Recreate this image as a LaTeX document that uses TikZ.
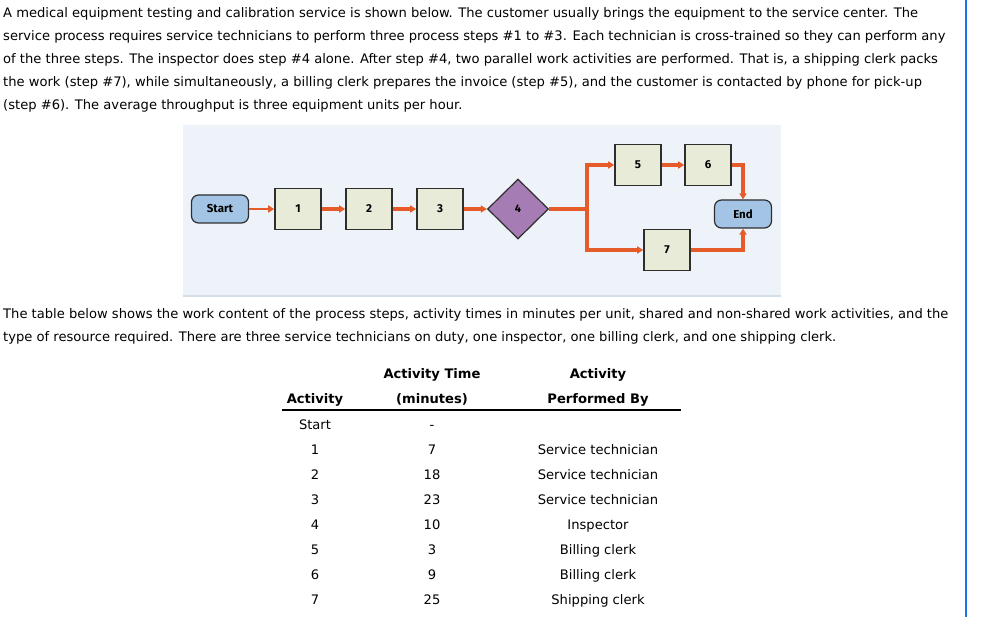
\documentclass[tikz,border=0pt]{standalone}
\usepackage{fontspec}
\usepackage{xcolor}
\usetikzlibrary{arrows.meta, positioning, shapes.geometric}
\setmainfont{DejaVu Sans}
\newfontfamily\diagfont{Fira Sans}

\definecolor{panelbg}{HTML}{EEF3F9}
\definecolor{panelrule}{HTML}{D3DEE6}
\definecolor{flow}{HTML}{E55B2A}
\definecolor{stepfill}{HTML}{E9EBD9}
\definecolor{edgegray}{HTML}{2E2E2E}
\definecolor{inspfill}{HTML}{A57CB3}
\definecolor{termfill}{HTML}{A3C4E4}
\definecolor{pagebar}{HTML}{1A73E8}

\tikzset{
  para/.style={anchor=base west, inner sep=0pt, font=\fontsize{13.1}{15}\selectfont},
  cell/.style={anchor=base, inner sep=0pt, font=\fontsize{13.1}{15}\selectfont},
  headcell/.style={cell, font=\fontsize{13.1}{15}\selectfont\bfseries},
  stepbox/.style={draw=edgegray, line width=1.6pt, fill=stepfill, minimum width=46pt, minimum height=41pt, inner sep=0pt, font=\diagfont\bfseries\fontsize{11.5}{13}\selectfont},
  termbox/.style={draw=edgegray, line width=1.2pt, fill=termfill, rounded corners=7pt, minimum width=57pt, minimum height=28pt, inner sep=0pt, font=\diagfont\bfseries\fontsize{11.5}{13}\selectfont},
  inspbox/.style={diamond, draw=edgegray, line width=1.2pt, fill=inspfill, minimum width=61pt, minimum height=60pt, inner sep=0pt, font=\diagfont\bfseries\fontsize{11}{12}\selectfont},
  flowline/.style={draw=flow, line width=3.4pt},
  flowarrow/.style={flowline, -{Triangle[length=6pt, width=7pt]}}
}

\begin{document}
\begin{tikzpicture}[x=1pt, y=-1pt]
    \useasboundingbox (0,0) rectangle (981,617);

    % Problem statement
    \foreach \txt [count=\i] in {%
      {A medical equipment testing and calibration service is shown below. The customer usually brings the equipment to the service center. The},
      {service process requires service technicians to perform three process steps \#1 to \#3. Each technician is cross-trained so they can perform any},
      {of the three steps. The inspector does step \#4 alone. After step \#4, two parallel work activities are performed. That is, a shipping clerk packs},
      {the work (step \#7), while simultaneously, a billing clerk prepares the invoice (step \#5), and the customer is contacted by phone for pick-up},
      {(step \#6). The average throughput is three equipment units per hour.}}
      \node[para] (intro\i) at (3,{18+23*(\i-1)}) {\txt};

    % Flow diagram panel
    \fill[panelbg] (183,125) rectangle (781,296);
    \draw[panelrule, line width=1.2pt] (183,296) -- (781,296);

    \node[termbox] (start) at (220,209) {Start};
    \node[stepbox] (s1) at (298,209) {1};
    \node[stepbox] (s2) at (369,209) {2};
    \node[stepbox] (s3) at (440,209) {3};
    \node[inspbox] (s4) at (518,209) {4};
    \node[stepbox] (s5) at (638,165) {5};
    \node[stepbox] (s6) at (708,165) {6};
    \node[stepbox] (s7) at (667,250) {7};
    \node[termbox] (end) at (743,214) {End};
    \coordinate (split) at (587,209);

    \draw[flowarrow, line width=2.6pt] (start) -- (s1);
    \draw[flowarrow] (s1) -- (s2);
    \draw[flowarrow] (s2) -- (s3);
    \draw[flowarrow] (s3) -- (s4);
    \draw[flowline] (s4) -- (split);
    \draw[flowarrow] (split) |- (s5);
    \draw[flowarrow] (split) |- (s7);
    \draw[flowarrow] (s5) -- (s6);
    \draw[flowarrow] (s6) -| (end);
    \draw[flowarrow] (s7) -| (end);

    % Second paragraph
    \node[para] (note1) at (3,318) {The table below shows the work content of the process steps, activity times in minutes per unit, shared and non-shared work activities, and the};
    \node[para] (note2) at (3,341) {type of resource required. There are three service technicians on duty, one inspector, one billing clerk, and one shipping clerk.};

    % Table
    \node[headcell] (hTimeA) at (432,378) {Activity Time};
    \node[headcell] (hByA) at (598,378) {Activity};
    \node[headcell] (hAct) at (315,403) {Activity};
    \node[headcell] (hTimeB) at (432,403) {(minutes)};
    \node[headcell] (hByB) at (598,403) {Performed By};
    \draw[line width=1.2pt] (282,410) -- (681,410);

    \foreach \act/\tm/\who [count=\r from 0] in {Start/-/{}, 1/7/Service technician, 2/18/Service technician, 3/23/Service technician, 4/10/Inspector, 5/3/Billing clerk, 6/9/Billing clerk, 7/25/Shipping clerk} {
      \node[cell] (act\r) at (315,{429+25*\r}) {\act};
      \node[cell] (tm\r) at (432,{429+25*\r}) {\tm};
      \node[cell] (who\r) at (598,{429+25*\r}) {\who};
    }

    % Page edge
    \draw[pagebar, line width=2pt] (966,0) -- (966,617);
\end{tikzpicture}
\end{document}
